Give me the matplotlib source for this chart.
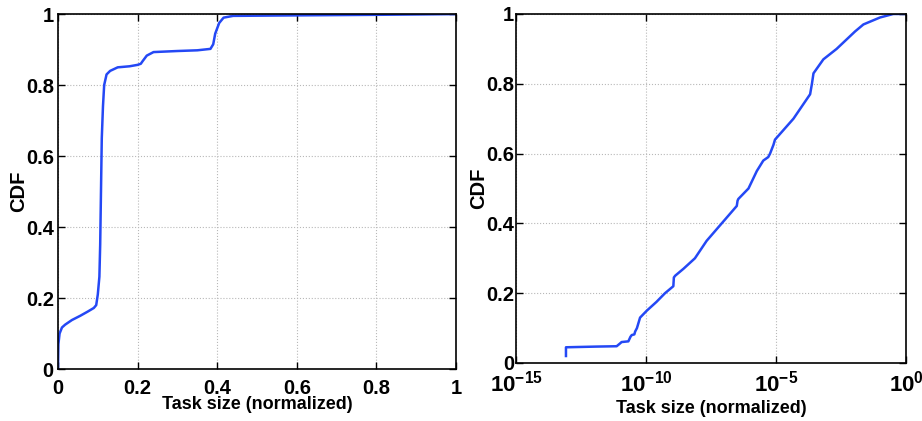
import matplotlib
matplotlib.use("Agg")
import matplotlib.pyplot as plt
import numpy as np
from matplotlib.ticker import FuncFormatter, FixedLocator, NullLocator

plt.rcParams['font.family'] = ['Liberation Sans', 'DejaVu Sans']
plt.rcParams['mathtext.fontset'] = 'custom'
plt.rcParams['mathtext.rm'] = 'Liberation Sans:bold'
plt.rcParams['mathtext.bf'] = 'Liberation Sans:bold'
plt.rcParams['mathtext.it'] = 'Liberation Sans:bold'
plt.rcParams['mathtext.sf'] = 'Liberation Sans:bold'
plt.rcParams['axes.unicode_minus'] = True

# Left: linear task size CDF
lin_x = [0.0, 0.001, 0.004, 0.01, 0.018, 0.035, 0.056, 0.075, 0.09, 0.096, 0.1, 0.104,
         0.106, 0.108, 0.11, 0.113, 0.116, 0.122, 0.131, 0.15, 0.18, 0.2, 0.208,
         0.213, 0.223, 0.24, 0.3, 0.35, 0.383, 0.39, 0.395, 0.405, 0.416, 0.44,
         0.55, 0.8, 1.0]
lin_y = [0.0, 0.07, 0.1, 0.117, 0.125, 0.138, 0.15, 0.162, 0.172, 0.18, 0.21, 0.26,
         0.35, 0.5, 0.65, 0.74, 0.8, 0.83, 0.84, 0.85, 0.853, 0.857, 0.86,
         0.868, 0.883, 0.893, 0.896, 0.898, 0.902, 0.915, 0.945, 0.975, 0.99, 0.995,
         0.996, 0.998, 1.0]

# Right: log task size CDF (log10 of task size)
log_x = [-13.08, -13.08, -12.5, -11.9, -11.13, -11.0, -10.94, -10.68, -10.6, -10.55,
         -10.45, -10.42, -10.35, -10.23, -9.97, -9.6, -9.27, -8.95, -8.93, -8.88,
         -8.56, -8.12, -7.67, -7.09, -6.51, -6.48, -6.45, -6.06, -5.74, -5.49,
         -5.3, -5.23, -5.1, -5.04, -4.33, -3.69, -3.62, -3.56, -3.37, -3.18, -2.67,
         -1.96, -1.64, -1.0, -0.49, 0.0]
log_y = [0.02, 0.045, 0.046, 0.047, 0.048, 0.056, 0.06, 0.062, 0.075, 0.08,
         0.082, 0.09, 0.1, 0.13, 0.15, 0.175, 0.2, 0.22, 0.245, 0.25,
         0.27, 0.3, 0.35, 0.4, 0.45, 0.465, 0.47, 0.5, 0.55, 0.58,
         0.59, 0.6, 0.625, 0.64, 0.7, 0.77, 0.8, 0.83, 0.85, 0.87, 0.9,
         0.95, 0.97, 0.99, 1.0, 1.0]

xlabel = "Task size (normalized)"
ylabel = "CDF"
line_color = "#2448f5"

fig = plt.figure(figsize=(9.22, 4.21), dpi=100)
ax1 = fig.add_axes([0.0629, 0.1235, 0.4317, 0.843])
ax2 = fig.add_axes([0.5597, 0.1378, 0.423, 0.829])

fmt = FuncFormatter(lambda v, p: "%g" % round(v, 2))

def style(ax, ylab_x, xlab_y, xpad, ypad, xsize=14.5):
    ax.tick_params(direction='in', top=True, right=True, length=5, width=1,
                   labelsize=14.5)
    ax.tick_params(axis='x', pad=xpad, labelsize=xsize)
    ax.tick_params(axis='y', pad=ypad)
    for lab in ax.get_xticklabels() + ax.get_yticklabels():
        lab.set_fontweight('bold')
    for s in ax.spines.values():
        s.set_linewidth(1.2)
    ax.grid(True, linestyle=':', color='#b8b8b8', linewidth=0.8)
    ax.set_axisbelow(True)
    ax.set_xlabel(xlabel, fontsize=13, fontweight='bold')
    ax.set_ylabel(ylabel, fontsize=14.5, fontweight='bold')
    ax.yaxis.set_label_coords(ylab_x, 0.5)
    ax.xaxis.set_label_coords(0.5, xlab_y)

ax1.plot(lin_x, lin_y, color=line_color, linewidth=1.8)
ax1.set_xlim(0, 1)
ax1.set_ylim(0, 1)
ax1.set_xticks(np.arange(0, 1.01, 0.2))
ax1.set_yticks(np.arange(0, 1.01, 0.2))
ax1.xaxis.set_major_formatter(fmt)
ax1.yaxis.set_major_formatter(fmt)
style(ax1, -0.075, -0.076, 7, 3)

ax2.plot(10.0 ** np.array(log_x), log_y, color=line_color, linewidth=1.8)
ax2.set_xscale('log')
ax2.set_xlim(1e-15, 1)
ax2.set_ylim(0, 1)
ax2.xaxis.set_major_locator(FixedLocator([1e-15, 1e-10, 1e-5, 1]))
ax2.xaxis.set_minor_locator(NullLocator())
ax2.xaxis.set_major_formatter(FuncFormatter(lambda v, p: r"$10^{%d}$" % round(np.log10(v))))
ax2.set_yticks(np.arange(0, 1.01, 0.2))
ax2.yaxis.set_major_formatter(fmt)
style(ax2, -0.071, -0.106, 5.5, 1.5, xsize=16)

fig.savefig("out.png", dpi=100)
